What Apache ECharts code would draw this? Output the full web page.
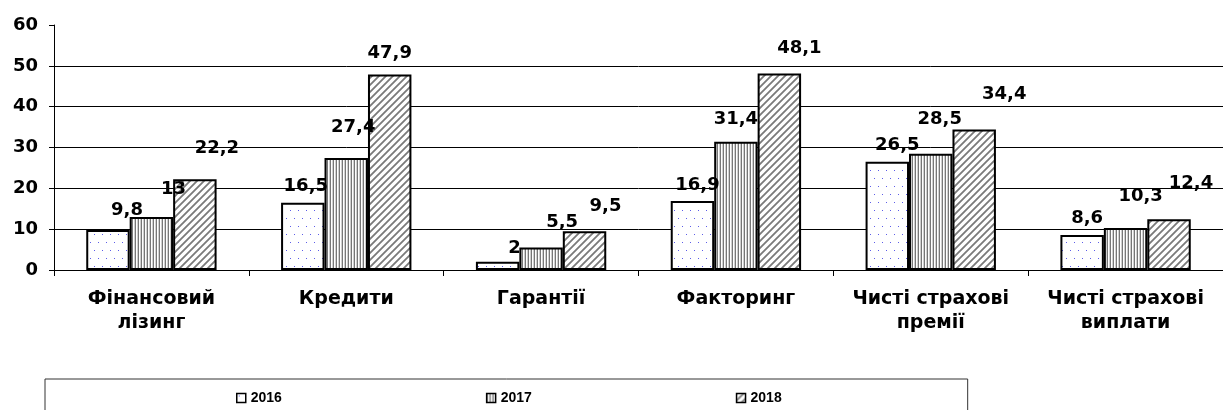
<!DOCTYPE html>
<html>
<head>
<meta charset="utf-8">
<script src="https://cdn.jsdelivr.net/npm/echarts@6/dist/echarts.min.js"></script>
<style>
  html, body { margin: 0; padding: 0; background: #fff; }
  #chart { width: 1223px; height: 410px; }
</style>
</head>
<body>
<div id="chart"></div>
<script>
const categories = ['Фінансовий\nлізинг', 'Кредити', 'Гарантії', 'Факторинг', 'Чисті страхові\nпремії', 'Чисті страхові\nвиплати']
const years = ['2016', '2017', '2018']
const values2016 = [9.8, 16.5, 2, 16.9, 26.5, 8.6]
const values2017 = [13, 27.4, 5.5, 31.4, 28.5, 10.3]
const values2018 = [22.2, 47.9, 9.5, 48.1, 34.4, 12.4]
const yMin = 0
const yMax = 60
const yStep = 10

// labels in the original were nudged by hand, so each one gets its own shift
const labelShift = [
  [[19, -6], [3, -2], [17, 0], [5, -2], [10, -2], [5, -3]],
  [[22, -14], [7, -17], [21, -11], [0, -8], [9, -20], [15, -18]],
  [[22, -17], [0, -7], [21, -11], [20, -11], [30, -21], [22, -22]],
]

const font = 'DejaVu Sans'

function tile(w, h, draw) {
  const c = document.createElement('canvas')
  c.width = w
  c.height = h
  const ctx = c.getContext('2d')
  ctx.fillStyle = '#fff'
  ctx.fillRect(0, 0, w, h)
  draw(ctx)
  return { image: c, repeat: 'repeat' }
}

const dots = tile(16, 16, (ctx) => {
  ctx.fillStyle = '#5c5ce8'
  ctx.fillRect(2, 2, 1, 1)
  ctx.fillRect(10, 2, 1, 1)
  ctx.fillRect(6, 10, 1, 1)
  ctx.fillRect(14, 10, 1, 1)
})

const stripes = tile(3, 3, (ctx) => {
  ctx.fillStyle = '#777'
  ctx.fillRect(0, 0, 1, 3)
  ctx.fillStyle = '#d0d0d0'
  ctx.fillRect(2, 0, 1, 3)
})

const hatch = tile(7, 7, (ctx) => {
  ctx.strokeStyle = '#7a7a7a'
  ctx.lineWidth = 1.8
  ctx.beginPath()
  ctx.moveTo(-1, 8); ctx.lineTo(8, -1)
  ctx.moveTo(-8, 8); ctx.lineTo(1, -1)
  ctx.moveTo(6, 8); ctx.lineTo(15, -1)
  ctx.stroke()
})

const fills = [dots, stripes, hatch]
const seriesValues = [values2016, values2017, values2018]

const chart = echarts.init(document.getElementById('chart'))

chart.setOption({
  animation: false,
  grid: { left: 54, right: -7, top: 25, bottom: 140 },
  legend: {
    data: years,
    left: 45,
    top: 379,
    padding: [12, 186, 20, 191],
    itemGap: 204,
    itemWidth: 9,
    itemHeight: 9,
    icon: 'rect',
    borderColor: '#333',
    borderWidth: 1,
    textStyle: { fontFamily: 'Liberation Sans', fontWeight: 'bold', fontSize: 14, color: '#000' },
    itemStyle: { borderColor: '#000', borderWidth: 1.5 },
  },
  xAxis: {
    type: 'category',
    data: categories,
    axisLine: { lineStyle: { color: '#000', width: 1 } },
    axisTick: { show: true, length: 6, lineStyle: { color: '#000' } },
    axisLabel: {
      interval: 0,
      color: '#000',
      fontFamily: font,
      fontWeight: 'bold',
      fontSize: 19,
      lineHeight: 24,
      margin: 17,
    },
  },
  yAxis: {
    type: 'value',
    min: yMin,
    max: yMax,
    interval: yStep,
    axisLine: { show: true, lineStyle: { color: '#000', width: 1 } },
    axisTick: { show: true, length: 5, lineStyle: { color: '#000' } },
    axisLabel: {
      color: '#000',
      fontFamily: font,
      fontWeight: 'bold',
      fontSize: 18,
      margin: 16,
    },
    splitLine: { show: true, showMaxLine: false, lineStyle: { color: '#000', width: 1 } },
  },
  series: years.map((name, s) => ({
    name,
    type: 'bar',
    barWidth: '22.3%',
    barGap: '0%',
    itemStyle: { color: fills[s], borderColor: '#000', borderWidth: 2 },
    label: {
      show: true,
      position: 'top',
      distance: 5,
      color: '#000',
      fontFamily: font,
      fontWeight: 'bold',
      fontSize: 18,
      formatter: (p) => String(p.value).replace('.', ','),
    },
    data: seriesValues[s].map((v, i) => ({ value: v, label: { offset: labelShift[s][i] } })),
  })),
})
</script>
</body>
</html>
